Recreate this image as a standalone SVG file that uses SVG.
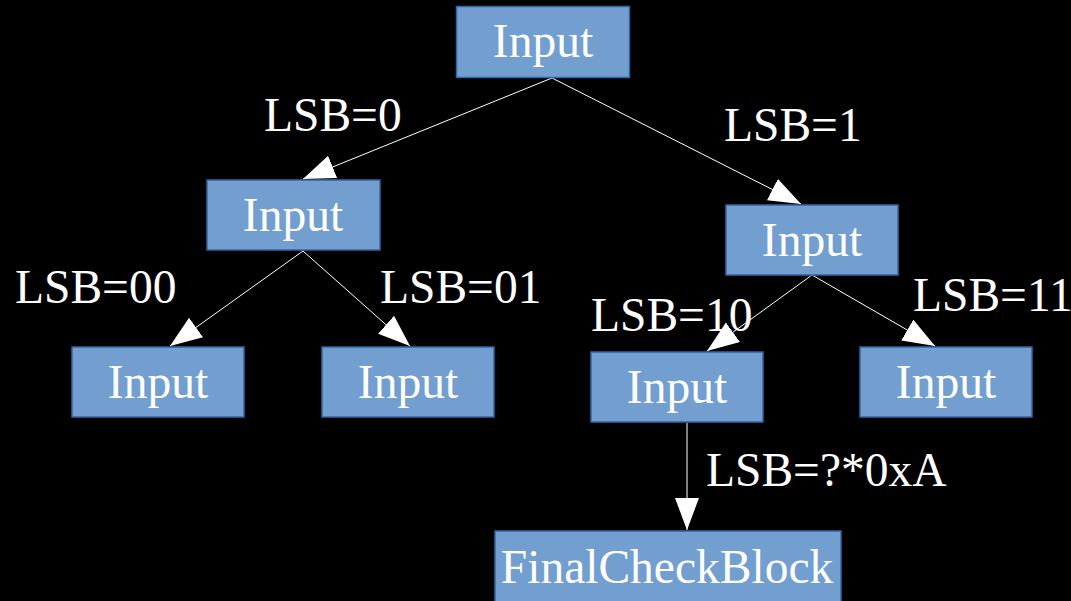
<svg xmlns="http://www.w3.org/2000/svg" width="1071" height="601" viewBox="0 0 1071 601">
<style>
.box{fill:#729fcf;stroke:#3465a4;stroke-width:1.5}
.t{font-family:"Liberation Serif","Times New Roman",serif;font-size:47.5px;fill:#fff}
.c{text-anchor:middle}
.e{stroke:#fff;stroke-width:1;fill:none;marker-end:url(#ah)}
</style>
<defs>
<marker id="ah" markerUnits="userSpaceOnUse" markerWidth="34" markerHeight="26" refX="32" refY="12" orient="auto">
<path d="M0,0 L32,12 L0,24 Z" fill="#fff"/>
</marker>
</defs>
<rect width="1071" height="601" fill="#000"/>
<g id="connectors">
<line class="e" x1="552" y1="78" x2="303" y2="179"/>
<line class="e" x1="552" y1="78" x2="801" y2="204"/>
<line class="e" x1="303" y1="251" x2="170" y2="346"/>
<line class="e" x1="303" y1="251" x2="410" y2="346"/>
<line class="e" x1="812" y1="275" x2="707" y2="351"/>
<line class="e" x1="812" y1="275" x2="935" y2="346"/>
<line class="e" x1="687" y1="423" x2="687" y2="530"/>
<text class="t" x="264" y="131">LSB=0</text>
<text class="t" x="724" y="141">LSB=1</text>
<text class="t" x="15" y="303">LSB=00</text>
<text class="t" x="380" y="303">LSB=01</text>
<text class="t" x="591" y="331">LSB=10</text>
<text class="t" x="913" y="311">LSB=11</text>
<text class="t" x="706" y="486">LSB=?*0xA</text>
</g>
<g id="n0"><rect class="box" x="456.5" y="6.5" width="173" height="71"/><text class="t c" x="543" y="57">Input</text></g>
<g id="n1"><rect class="box" x="207" y="180" width="173" height="70"/><text class="t c" x="293" y="231">Input</text></g>
<g id="n2"><rect class="box" x="726" y="205" width="172" height="70"/><text class="t c" x="812" y="256">Input</text></g>
<g id="n3"><rect class="box" x="72" y="347" width="172" height="70"/><text class="t c" x="158" y="398">Input</text></g>
<g id="n4"><rect class="box" x="322" y="347" width="172" height="70"/><text class="t c" x="408" y="398">Input</text></g>
<g id="n5"><rect class="box" x="591" y="352" width="172" height="70"/><text class="t c" x="677" y="403">Input</text></g>
<g id="n6"><rect class="box" x="860" y="347" width="172" height="70"/><text class="t c" x="946" y="398">Input</text></g>
<g id="n7"><rect class="box" x="495" y="531" width="346" height="80"/><text class="t c" x="667" y="583">FinalCheckBlock</text></g>
</svg>
